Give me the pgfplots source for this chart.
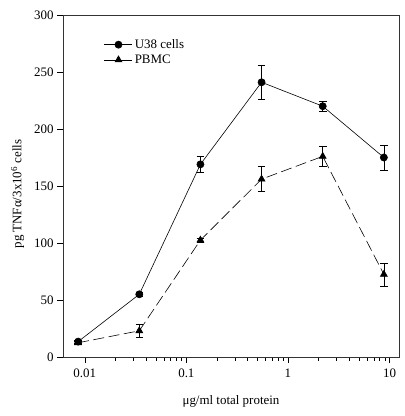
\documentclass[border=0pt]{standalone}
\usepackage{pgfplots}
\pgfplotsset{compat=1.18}
\usepackage{fontspec}
\setmainfont{Liberation Serif}
\begin{document}
\begin{tikzpicture}
\begin{axis}[
  scale only axis, width=336bp, height=342bp,
  xmode=log, xmin=0.0061, xmax=12.4,
  ymin=0, ymax=300,
  xtick={0.01,0.1,1,10}, xticklabels={0.01,0.1,1,10},
  ytick={0,50,100,150,200,250,300},
  tick align=outside, xtick pos=bottom, ytick pos=left,
  major tick length=6bp, minor tick length=3.5bp,
  axis line style={line width=0.6pt, black!80},
  tick style={line width=0.5pt, black},
  /pgf/number format/assume math mode=true,
  ticklabel style={font=\fontsize{13}{15}\selectfont},
  xticklabel style={yshift=-2bp},
  label style={font=\fontsize{13}{15}\selectfont},
  xlabel={μg/ml total protein},
  ylabel={pg TNFα/3x10\textsuperscript{6} cells},
  xlabel style={yshift=-11bp},
  ylabel style={yshift=3bp, xshift=-8bp},
  legend style={at={(rel axis cs:0.122,0.935)}, anchor=north west, draw=none, fill=none,
    font=\fontsize{13}{15}\selectfont, row sep=1bp, inner sep=0pt},
  legend cell align=left,
  legend image code/.code={
    \draw[#1, solid] (0cm,0cm) -- (28bp,0cm);
    \draw[#1, solid] plot coordinates {(14bp,0cm)};
  },
  clip=false,
]
\addplot+[black, line width=0.6pt, mark=*, mark size=3.6pt, mark options={fill=black, solid},
  error bars/.cd, y dir=both, y explicit,
  error mark options={black, mark size=3.8pt, line width=0.5pt, rotate=90},
  error bar style={black, line width=0.5pt, solid}]
  coordinates {
  (0.0086,13.5) +- (0,1.5)
  (0.0344,55) +- (0,2)
  (0.1375,169) +- (0,7)
  (0.55,241) +- (0,15)
  (2.2,220) +- (0,4)
  (8.8,175) +- (0,11)
  };
\addlegendentry{U38 cells}
\addplot+[black, line width=0.6pt, dash pattern=on 11bp off 4.5bp, mark=triangle*, mark size=4pt, mark options={fill=black, solid},
  error bars/.cd, y dir=both, y explicit,
  error mark options={black, mark size=3.8pt, line width=0.5pt, rotate=90},
  error bar style={black, line width=0.5pt, solid}]
  coordinates {
  (0.0086,12.5) +- (0,1.5)
  (0.0344,23) +- (0,6)
  (0.1375,102.5) +- (0,2)
  (0.55,156) +- (0,11)
  (2.2,176) +- (0,9)
  (8.8,72.5) +- (0,10)
  };
\addlegendentry{PBMC}
\end{axis}
\pgfresetboundingbox
\path (current axis.south west) ++(-63bp,-59bp) coordinate (bl);
\path (current axis.north east) ++(6bp,15bp) coordinate (tr);
\useasboundingbox (bl) rectangle (tr);
\end{tikzpicture}
\end{document}
